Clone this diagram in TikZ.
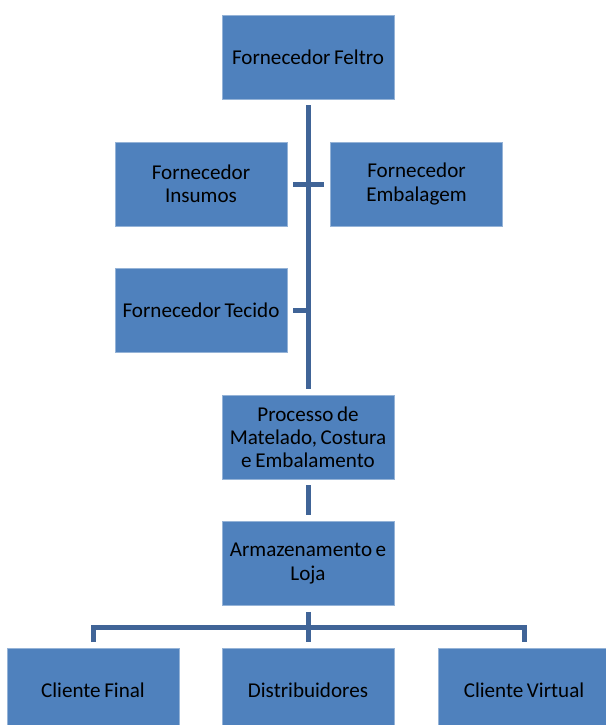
\documentclass[tikz,border=0pt]{standalone}
\usepackage{fontspec}
\setmainfont{Carlito}[WordSpace=0.75]
\usetikzlibrary{positioning}

\definecolor{boxblue}{RGB}{79,129,189}
\definecolor{lineblue}{RGB}{64,100,151}

\tikzset{
  unit/.style={rectangle,fill=boxblue,draw=boxblue!60!white,line width=0.4pt,
    minimum width=4.3cm,minimum height=2.1cm,align=center,
    font=\fontsize{15}{16.5}\selectfont},
  conn/.style={draw=lineblue,line width=0.125cm}
}

\begin{document}
\begin{tikzpicture}[x=0.025cm,y=-0.025cm]
\useasboundingbox (0,0) rectangle (606,725);
\node[unit]	(feltro)	at (308,57)	{Fornecedor Feltro};
\node[unit]	(insumos)	at (201,184)	{Fornecedor\\Insumos};
\node[unit]	(embal)		at (416.5,184)	{Fornecedor\\Embalagem};
\node[unit]	(tecido)	at (201,310)	{Fornecedor Tecido};
\node[unit]	(processo)	at (308,437)	{Processo de\\Matelado, Costura\\e Embalamento};
\node[unit]	(armazem)	at (308,563.5)	{Armazenamento e\\Loja};
\node[unit]	(final)		at (93,690.5)	{Cliente Final};
\node[unit]	(distrib)	at (308,690.5)	{Distribuidores};
\node[unit]	(virtual)	at (524,690.5)	{Cliente Virtual};
\coordinate (bus) at (308,627);
% fornecedores
\draw[conn]	([yshift=-0.15cm]feltro.south) -- ([yshift=0.15cm]processo.north);
\draw[conn]	([xshift=0.15cm]insumos.east) -- ([xshift=-0.15cm]embal.west);
\draw[conn]	([xshift=0.15cm]tecido.east) -- (tecido.east -| feltro.south);
% producao
\draw[conn]	([yshift=-0.15cm]processo.south) -- ([yshift=0.15cm]armazem.north);
% clientes
\draw[conn]	([yshift=-0.15cm]armazem.south) -- ([yshift=0.15cm]distrib.north);
\draw[conn]	([yshift=0.15cm]final.north) |- (bus) -| ([yshift=0.15cm]virtual.north);
\end{tikzpicture}
\end{document}
